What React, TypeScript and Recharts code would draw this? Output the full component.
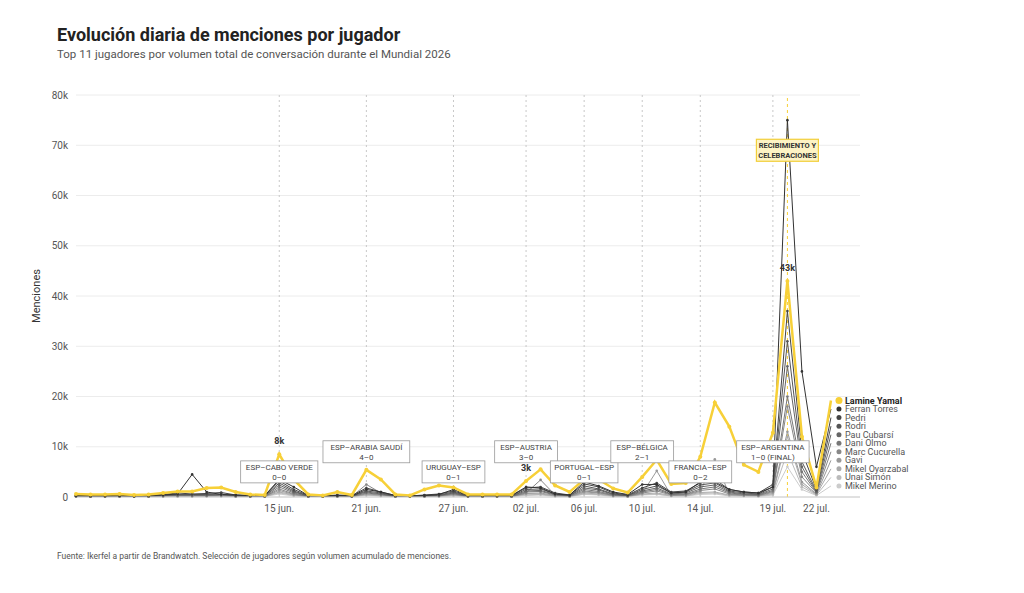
import React from 'react';
import { LineChart, Line, XAxis, YAxis, CartesianGrid, ReferenceLine, ReferenceDot } from 'recharts';

// days from 01 jun. (index 0) to 23 jul. (index 52), values in thousands
const tickIdx = [14, 20, 26, 31, 35, 39, 43, 48, 51];
const tickLabels = ['15 jun.', '21 jun.', '27 jun.', '02 jul.', '06 jul.', '10 jul.', '14 jul.', '19 jul.', '22 jul.'];
const matchLines = [14, 20, 26, 31, 35, 39, 43, 48];

const players = ['Lamine Yamal', 'Ferran Torres', 'Pedri', 'Rodri', 'Pau Cubarsí', 'Dani Olmo', 'Marc Cucurella', 'Gavi', 'Mikel Oyarzabal', 'Unai Simón', 'Mikel Merino'];
const colors = ['#f7d038', '#333333', '#444444', '#555555', '#666666', '#777777', '#888888', '#999999', '#aaaaaa', '#bbbbbb', '#cccccc'];

const yamal = [0.6,0.5,0.5,0.6,0.4,0.5,0.8,1.1,1.1,1.8,1.9,1.0,0.5,0.4,8.5, 3.5,0.5,0.3,1.0,0.4,5.4,3.5,0.5,0.3,1.5,2.3,1.9, 0.5,0.5,0.5,0.5, 3.2,5.5,2.3,1.0,3.5,3.5,1.7,0.9,4.0,7.4,2.6,2.8,8.0,18.8,14.0,6.4,5.0,12.8,43,12,1.9,19.2];
const ferran = [0.3,0.3,0.2,0.3,0.2,0.3,0.4,0.6,4.5,1.0,0.5,0.4,0.3,0.3,3.5, 2.0,0.3,0.2,0.3,0.2,1.5,1.0,0.3,0.2,0.3,0.5,1.5, 0.3,0.3,0.3,0.3, 2.0,1.8,0.6,0.4,3.0,2.2,1.0,0.5,2.5,2.5,0.8,1.0,3.0,3.0,1.5,1.0,0.8,2.0,75,25,6,17.5];
const pedri = [0.3,0.2,0.3,0.3,0.2,0.3,0.5,0.8,0.6,0.7,0.9,0.4,0.3,0.3,3.2, 1.5,0.3,0.2,0.4,0.3,1.8,1.0,0.3,0.2,0.4,0.6,1.2, 0.3,0.3,0.3,0.3, 1.8,2.0,0.8,0.4,2.6,2.0,0.8,0.4,1.8,2.8,1.0,1.2,2.8,3.5,1.5,1.0,0.8,2.5,37,9,1.5,15.8];
const rodri = [0.2,0.2,0.2,0.2,0.2,0.2,0.4,0.5,0.5,0.5,0.6,0.3,0.2,0.2,2.8, 1.2,0.2,0.2,0.3,0.2,1.2,0.8,0.2,0.2,0.3,0.4,1.0, 0.2,0.2,0.2,0.2, 1.5,1.6,0.6,0.3,2.2,1.6,0.6,0.3,1.5,2.2,0.8,1.0,2.4,2.8,1.2,0.8,0.6,2.0,31,7,1.2,14.1];
const cubarsi = [0.2,0.1,0.2,0.2,0.1,0.2,0.3,0.4,0.4,0.4,0.5,0.3,0.2,0.2,2.4, 1.0,0.2,0.1,0.2,0.2,1.0,0.6,0.2,0.1,0.2,0.3,0.8, 0.2,0.2,0.2,0.2, 1.2,1.3,0.5,0.3,1.8,1.4,0.5,0.3,1.2,1.8,0.6,0.8,2.0,2.4,1.0,0.6,0.5,1.6,26,6,1.0,12.4];
const olmo = [0.2,0.1,0.1,0.2,0.1,0.1,0.3,0.3,0.3,0.3,0.4,0.2,0.1,0.1,2.0, 0.8,0.1,0.1,0.2,0.1,0.8,0.5,0.1,0.1,0.2,0.3,0.7, 0.1,0.1,0.1,0.1, 1.0,1.1,0.4,0.2,1.5,1.1,0.4,0.2,1.0,1.5,0.5,0.6,1.6,2.0,0.8,0.5,0.4,1.3,20,5,0.9,10.7];
const cucurella = [0.1,0.1,0.1,0.1,0.1,0.1,0.2,0.3,0.3,0.3,0.3,0.2,0.1,0.1,1.6, 0.6,0.1,0.1,0.2,0.1,2.5,0.8,0.1,0.1,0.2,0.2,0.6, 0.1,0.1,0.1,0.1, 0.8,3.4,0.4,0.2,1.2,0.9,0.3,0.2,0.8,1.2,0.4,0.5,1.3,1.6,0.6,0.4,0.3,1.1,18,4,0.8,9.0];
const gavi = [0.1,0.1,0.1,0.1,0.1,0.1,0.2,0.2,0.2,0.2,0.3,0.1,0.1,0.1,1.3, 0.5,0.1,0.1,0.1,0.1,0.6,0.4,0.1,0.1,0.1,0.2,0.5, 0.1,0.1,0.1,0.1, 0.7,0.8,0.3,0.1,1.0,0.8,0.3,0.1,0.7,5.2,0.3,0.4,1.1,7.5,0.5,0.3,0.3,0.9,13,3,0.6,7.3];
const oyarzabal = [0.1,0.1,0.1,0.1,0.1,0.1,0.1,0.2,0.2,0.2,0.2,0.1,0.1,0.1,1.0, 0.4,0.1,0.1,0.1,0.1,0.5,0.3,0.1,0.1,0.1,0.2,0.4, 0.1,0.1,0.1,0.1, 0.6,0.6,0.2,0.1,0.8,0.6,0.2,0.1,0.6,0.8,0.3,0.3,0.9,1.0,0.4,0.3,0.2,0.7,12,2.5,0.5,5.6];
const simon = [0.1,0.1,0.1,0.1,0.1,0.1,0.1,0.1,0.1,0.2,0.2,0.1,0.1,0.1,0.8, 0.3,0.1,0.1,0.1,0.1,0.4,0.2,0.1,0.1,0.1,0.1,0.3, 0.1,0.1,0.1,0.1, 0.4,0.5,0.2,0.1,0.6,0.5,0.2,0.1,0.5,0.6,0.2,0.2,0.7,0.8,0.3,0.2,0.2,0.5,9,2,0.4,3.9];
const merino = [0.1,0.1,0.1,0.1,0.1,0.1,0.1,0.1,0.1,0.1,0.1,0.1,0.1,0.1,0.6, 0.2,0.1,0.1,0.1,0.1,0.3,0.2,0.1,0.1,0.1,0.1,0.2, 0.1,0.1,0.1,0.1, 0.3,0.4,0.1,0.1,0.5,0.4,0.1,0.1,0.4,0.5,0.2,0.2,0.5,0.6,0.2,0.2,0.1,0.4,6,1.5,0.3,2.2];

const series = [yamal, ferran, pedri, rodri, cubarsi, olmo, cucurella, gavi, oyarzabal, simon, merino];

const matches = [
  { x: 14, y: 5, l1: 'ESP–CABO VERDE', l2: '0–0' },
  { x: 20, y: 9, l1: 'ESP–ARABIA SAUDÍ', l2: '4–0' },
  { x: 26, y: 5, l1: 'URUGUAY–ESP', l2: '0–1' },
  { x: 31, y: 9, l1: 'ESP–AUSTRIA', l2: '3–0' },
  { x: 35, y: 5, l1: 'PORTUGAL–ESP', l2: '0–1' },
  { x: 39, y: 9, l1: 'ESP–BÉLGICA', l2: '2–1' },
  { x: 43, y: 5, l1: 'FRANCIA–ESP', l2: '0–2' },
  { x: 48, y: 9, l1: 'ESP–ARGENTINA', l2: '1–0 (FINAL)' },
];

const valueLabels: Record<number, string> = { 14: '8k', 31: '3k', 49: '43k' };

const data = yamal.map((_, i) => {
  const row: any = { i };
  players.forEach((p, k) => { row[p] = series[k][i] * 1000; });
  return row;
});

const last = yamal.length - 1;
const font = 'Roboto, sans-serif';

function makeDot(k: number) {
  return (props: any) => {
    const { cx, cy, index } = props;
    if (index === last) {
      return (
        <g key={`d-${k}-${index}`}>
          <circle cx={cx + 8} cy={cy} r={k === 0 ? 3.5 : 2.5} fill={colors[k]} />
          <text x={cx + 14} y={cy + 3} fontSize={9} fontFamily={font} fill={k === 0 ? '#222' : '#555'} fontWeight={k === 0 ? 700 : 400}>{players[k]}</text>
        </g>
      );
    }
    return (
      <g key={`d-${k}-${index}`}>
        <circle cx={cx} cy={cy} r={k === 0 ? 2 : 1.3} fill={colors[k]} />
        {k === 0 && valueLabels[index] && (
          <text x={cx} y={cy - 10} textAnchor="middle" fontSize={9} fontWeight={700} fontFamily={font} fill="#333">{valueLabels[index]}</text>
        )}
      </g>
    );
  };
}

const MatchBox = (m: typeof matches[number]) => (props: any) => {
  const { cx, cy } = props;
  const w = m.l1.length * 4.8 + 10;
  return (
    <g>
      <rect x={cx - w / 2} y={cy - 11} width={w} height={22} fill="#fff" stroke="#999" strokeWidth={0.8} />
      <text x={cx} y={cy - 2} textAnchor="middle" fontSize={8} fontFamily={font} fill="#444">{m.l1}</text>
      <text x={cx} y={cy + 8} textAnchor="middle" fontSize={8} fontFamily={font} fill="#444">{m.l2}</text>
    </g>
  );
};

const Celebration = (props: any) => {
  const { cx, cy } = props;
  return (
    <g>
      <rect x={cx - 31} y={cy - 11} width={62} height={22} fill="#fdf3c4" stroke="#f2cf3a" strokeWidth={1.2} />
      <text x={cx} y={cy - 2} textAnchor="middle" fontSize={7.5} fontWeight={700} fontFamily={font} fill="#333">RECIBIMIENTO Y</text>
      <text x={cx} y={cy + 8} textAnchor="middle" fontSize={7.5} fontWeight={700} fontFamily={font} fill="#333">CELEBRACIONES</text>
    </g>
  );
};

export default function App() {
  return (
    <div style={{ position: 'relative', width: 1024, height: 593, margin: -8, background: '#fff', fontFamily: font }}>
      <div style={{ position: 'absolute', left: 57, top: 24, fontSize: 18, fontWeight: 700, color: '#222' }}>Evolución diaria de menciones por jugador</div>
      <div style={{ position: 'absolute', left: 57, top: 47, fontSize: 11.5, color: '#555' }}>Top 11 jugadores por volumen total de conversación durante el Mundial 2026</div>
      <div style={{ position: 'absolute', left: 57, top: 551, fontSize: 8.5, color: '#555' }}>Fuente: Ikerfel a partir de Brandwatch. Selección de jugadores según volumen acumulado de menciones.</div>
      <div style={{ position: 'absolute', left: 36, top: 296, fontSize: 11, color: '#333', transform: 'translate(-50%,-50%) rotate(-90deg)' }}>Menciones</div>
      <div style={{ position: 'absolute', left: 0, top: 0 }}>
        <LineChart width={1024} height={593} data={data} margin={{ top: 95, right: 164, bottom: 66, left: 36 }}>
          <CartesianGrid vertical={false} stroke="#ececec" />
          <XAxis dataKey="i" type="number" domain={[0, 54]} ticks={tickIdx} tickFormatter={(v: number) => tickLabels[tickIdx.indexOf(v)]}
            tick={{ fontSize: 10, fill: '#555', fontFamily: font }} tickLine={false} axisLine={{ stroke: '#ccc' }} />
          <YAxis domain={[0, 80000]} ticks={[0, 10000, 20000, 30000, 40000, 50000, 60000, 70000, 80000]} width={40}
            tickFormatter={(v: number) => (v === 0 ? '0' : `${v / 1000}k`)} tick={{ fontSize: 10, fill: '#555', fontFamily: font }} tickLine={false} axisLine={false} />
          {matchLines.map((x) => (
            <ReferenceLine key={`v-${x}`} x={x} stroke="#c8c8c8" strokeDasharray="2 3" />
          ))}
          <ReferenceLine x={49} stroke="#f7d038" strokeDasharray="3 3" />
          {players.slice().reverse().map((p) => {
            const k = players.indexOf(p);
            return (
              <Line key={p} dataKey={p} stroke={colors[k]} strokeWidth={k === 0 ? 2.5 : 1} dot={makeDot(k)} activeDot={false} isAnimationActive={false} />
            );
          })}
          {matches.map((m) => (
            <ReferenceDot key={m.l1} x={m.x} y={m.y * 1000} shape={MatchBox(m)} />
          ))}
          <ReferenceDot x={49} y={69000} shape={Celebration} />
        </LineChart>
      </div>
    </div>
  );
}
